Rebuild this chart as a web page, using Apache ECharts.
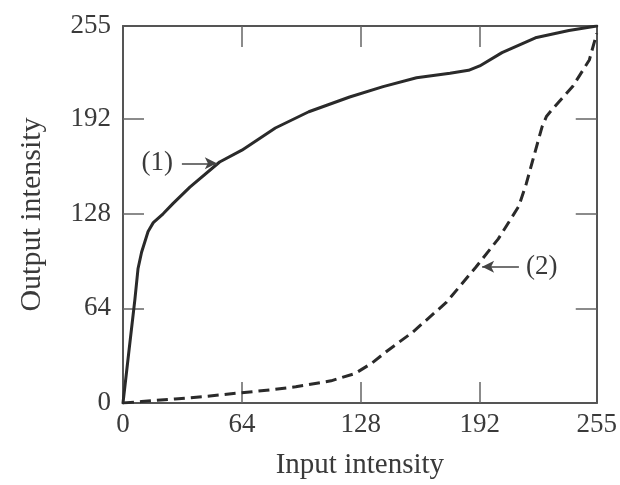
<!DOCTYPE html>
<html>
<head>
<meta charset="utf-8">
<script src="https://cdn.jsdelivr.net/npm/echarts@6/dist/echarts.min.js"></script>
<style>
html,body{margin:0;padding:0;background:#fff;}
#chart{width:620px;height:485px;}
</style>
</head>
<body>
<div id="chart"></div>
<script>
// Data
var tickValues = [0, 64, 128, 192, 255];
var innerTicks = [64, 128, 192];
var curve1X = [0, 3, 6.4, 8.1, 10, 13.5, 16.3, 21.6, 27, 36, 52, 64, 82, 100, 122, 140, 158, 176, 186, 192, 204, 222, 240, 255];
var curve1Y = [0, 33, 70, 91, 102, 116, 122, 128, 135, 146, 163, 171, 186, 197, 207, 214, 220, 223, 225, 228, 237, 247, 252, 255];
var curve2X = [0, 10, 28, 45, 62, 80, 93, 112, 125, 134, 142, 156, 174, 190, 202, 213, 217, 220.3, 225.6, 228, 231, 242, 251, 255];
var curve2Y = [0, 1, 2.7, 4.5, 6.7, 9, 11, 15, 20, 27, 35, 48, 68, 92, 111, 133, 148, 163, 187, 194, 198.5, 214, 232, 250];
var label1 = '(1)';
var label2 = '(2)';
var xTitle = 'Input intensity';
var yTitle = 'Output intensity';

function pairs(xs, ys){ return xs.map(function(x,i){ return [x, ys[i]]; }); }

var FONT = '"Liberation Serif", "DejaVu Serif", serif';
var TXT = '#3a3a3a';
var AX = '#555';

var chart = echarts.init(document.getElementById('chart'), null, {renderer:'canvas'});
var boxAxis = function(pos, isX, showLabels){
  var a = {
    type:'value', min:0, max:255, position:pos,
    axisLine:{show:true, onZero:false, lineStyle:{color:AX, width:2}},
    axisTick:{show:true, inside:true, length:21, customValues:innerTicks, lineStyle:{color:'#666', width:1.5}},
    splitLine:{show:false},
    axisLabel:{show:showLabels, customValues:tickValues, fontFamily:FONT, fontSize:27, color:TXT, margin: isX ? 8 : 12}
  };
  return a;
};
var xb = boxAxis('bottom', true, true);
xb.name = xTitle; xb.nameLocation='middle'; xb.nameGap=48;
xb.nameTextStyle = {fontFamily:FONT, fontSize:29, color:TXT};
var xt = boxAxis('top', true, false);
var yl = boxAxis('left', false, true);
yl.name = yTitle; yl.nameLocation='middle'; yl.nameGap=76;
yl.nameTextStyle = {fontFamily:FONT, fontSize:30, color:TXT};
var yr = boxAxis('right', false, false);

var arrowLine = {color:'#444', width:1.5, type:'solid'};
chart.setOption({
  animation:false,
  backgroundColor:'#fff',
  grid:{left:123, right:22, top:26, bottom:80, containLabel:false},
  xAxis:[xb, xt],
  yAxis:[yl, yr],
  series:[
    {type:'line', xAxisIndex:0, yAxisIndex:0, data:pairs(curve1X, curve1Y), showSymbol:false,
     smooth:false, lineStyle:{color:'#2a2a2a', width:3, join:'round', cap:'round'}, z:3,
     markLine:{silent:true, symbol:['none','arrow'], symbolSize:[9,12], lineStyle:arrowLine,
       label:{show:true, position:'start', formatter:label1, fontFamily:FONT, fontSize:27, color:TXT, distance:9},
       data:[[{coord:[31.7,162.1]},{coord:[50.5,162.1]}]]}},
    {type:'line', xAxisIndex:0, yAxisIndex:0, data:pairs(curve2X, curve2Y), showSymbol:false,
     smooth:false, lineStyle:{color:'#2a2a2a', width:3, type:[11,6], join:'round'}, z:3,
     markLine:{silent:true, symbol:['none','arrow'], symbolSize:[9,12], lineStyle:arrowLine,
       label:{show:true, position:'start', formatter:label2, fontFamily:FONT, fontSize:27, color:TXT, distance:7},
       data:[[{coord:[213.1,92.2]},{coord:[193.3,92.2]}]]}}
  ]
});
</script>
</body>
</html>
